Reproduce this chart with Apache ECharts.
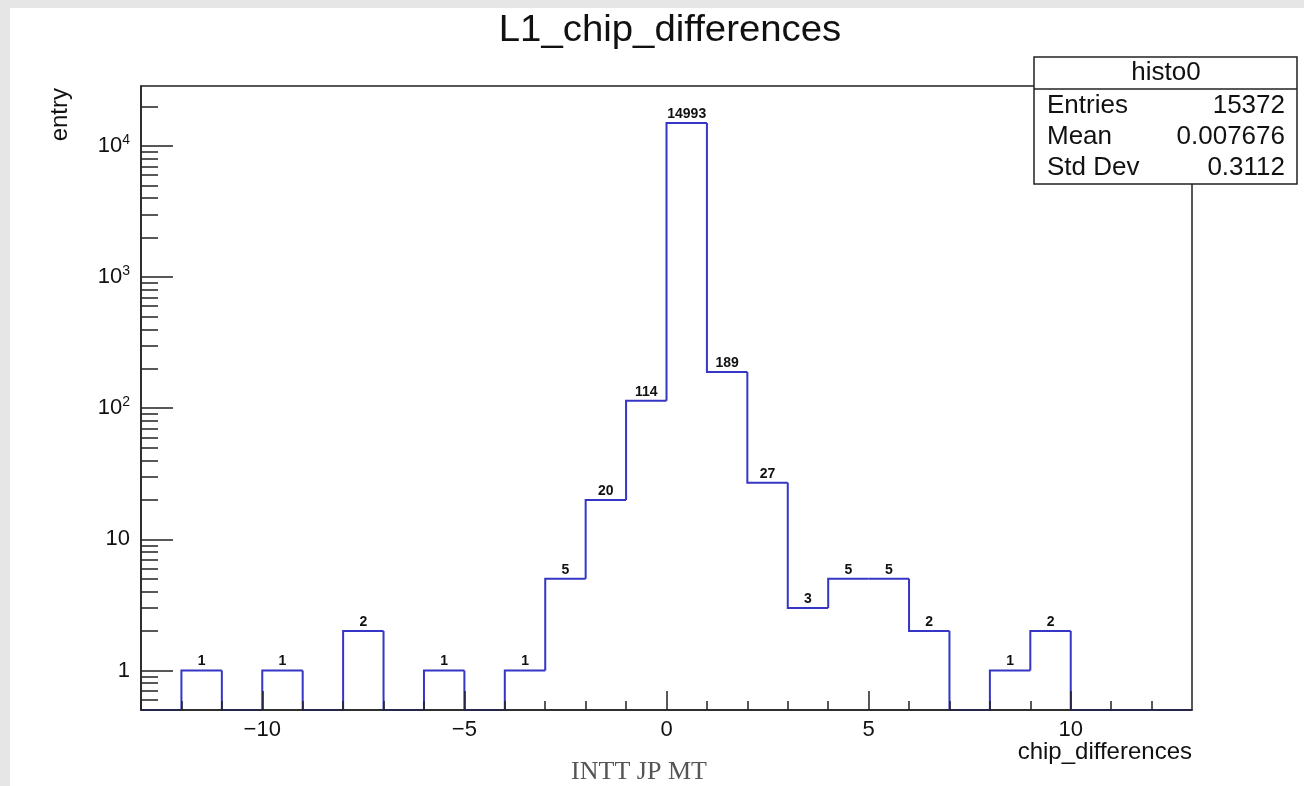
<!DOCTYPE html>
<html>
<head>
<meta charset="utf-8">
<script src="https://cdn.jsdelivr.net/npm/echarts@6/dist/echarts.min.js"></script>
<style>
html,body{margin:0;padding:0;background:#fff;}
#c{width:1304px;height:786px;}
</style>
</head>
<body>
<div id="c"></div>
<script>
// ---- data ----
const chartTitle = 'L1_chip_differences';
const xTitle = 'chip_differences';
const yTitle = 'entry';
const histName = 'histo0';
const binLowEdges = [-13,-12,-11,-10,-9,-8,-7,-6,-5,-4,-3,-2,-1,0,1,2,3,4,5,6,7,8,9,10,11,12];
const binCounts   = [0,1,0,1,0,2,0,1,0,1,5,20,114,14993,189,27,3,5,5,2,0,1,2,0,0,0];
const statLabels = ['Entries','Mean','Std Dev'];
const statValues = ['15372','0.007676','0.3112'];
const xMajorTicks = [-10,-5,0,5,10];
const xMinorTicks = [-13,-12,-11,-9,-8,-7,-6,-4,-3,-2,-1,1,2,3,4,6,7,8,9,11,12];
const yMajorTicks = [1,10,100,1000,10000];
const yMinorTicks = [0.6,0.7,0.8,0.9,2,3,4,5,6,7,8,9,20,30,40,50,60,70,80,90,200,300,400,500,600,700,800,900,2000,3000,4000,5000,6000,7000,8000,9000,20000];
const footer = 'INTT JP MT';

const lineColor = '#3535c6';
const font = '"Liberation Sans", Arial, Helvetica, sans-serif';

const chart = echarts.init(document.getElementById('c'), null, {renderer: 'canvas'});

const xBase = {
  type: 'value', min: -13, max: 13, gridIndex: 0, position: 'bottom', z: 10,
  splitLine: {show: false}
};
const yBase = {
  type: 'log', logBase: 10, min: 0.5, max: 28650, gridIndex: 0, position: 'left', z: 10,
  splitLine: {show: false}
};

function yFmt(v) {
  if (v === 1) return '1';
  if (v === 10) return '10';
  const e = Math.round(Math.log10(v));
  return '10{sup|' + e + '}';
}

const tickStyle = {color: '#222', width: 1.5};
const axisLineOn = {show: true, onZero: false, lineStyle: {color: '#222', width: 1.5}};
const axisLineOff = {show: false, onZero: false};

const option = {
  animation: false,
  backgroundColor: '#fff',
  grid: {left: 141, right: 112, top: 86, bottom: 76, show: true, borderColor: '#222', borderWidth: 1.5, backgroundColor: 'transparent'},
  xAxis: [
    Object.assign({}, xBase, {
      axisLine: axisLineOn,
      axisTick: {show: true, inside: true, length: 19, customValues: xMajorTicks, lineStyle: tickStyle},
      axisLabel: {show: true, customValues: xMajorTicks, margin: 9, fontFamily: font, fontSize: 22, color: '#111',
        formatter: v => (v < 0 ? '\u2212' + Math.abs(v) : String(v))}
    }),
    Object.assign({}, xBase, {
      axisLine: axisLineOff,
      axisTick: {show: true, inside: true, length: 9, customValues: xMinorTicks, lineStyle: tickStyle},
      axisLabel: {show: false}
    })
  ],
  yAxis: [
    Object.assign({}, yBase, {
      axisLine: axisLineOn,
      axisTick: {show: true, inside: true, length: 32, customValues: yMajorTicks, lineStyle: tickStyle},
      axisLabel: {show: true, customValues: yMajorTicks, margin: 11, fontFamily: font, fontSize: 22, color: '#111',
        formatter: yFmt,
        rich: {sup: {fontSize: 14, fontFamily: font, color: '#111', verticalAlign: 'top', padding: [0,0,12,0]}}}
    }),
    Object.assign({}, yBase, {
      axisLine: axisLineOff,
      axisTick: {show: true, inside: true, length: 17, customValues: yMinorTicks, lineStyle: tickStyle},
      axisLabel: {show: false}
    })
  ],
  series: [{
    type: 'custom',
    xAxisIndex: 0, yAxisIndex: 0,
    clip: false,
    z: 1,
    data: binLowEdges.map((x, i) => [x, binCounts[i]]),
    encode: {x: 0, y: 1},
    renderItem: function (params, api) {
      const i = params.dataIndex;
      const x0 = binLowEdges[i];
      const c = binCounts[i];
      const prev = i > 0 ? binCounts[i - 1] : 0;
      const bottom = params.coordSys.y + params.coordSys.height;
      const yOf = v => (v > 0 ? api.coord([x0, v])[1] : bottom);
      const xl = api.coord([x0, 1])[0];
      const xr = api.coord([x0 + 1, 1])[0];
      const pts = [[xl, yOf(prev)], [xl, yOf(c)], [xr, yOf(c)]];
      if (i === binLowEdges.length - 1) pts.push([xr, bottom]);
      const children = [{
        type: 'polyline',
        shape: {points: pts},
        style: {stroke: lineColor, lineWidth: 2, fill: null}
      }];
      if (c > 0) {
        children.push({
          type: 'text',
          style: {
            text: String(c), x: (xl + xr) / 2, y: yOf(c) - 2,
            align: 'center', verticalAlign: 'bottom',
            font: 'bold 14px ' + font, fill: '#111'
          }
        });
      }
      return {type: 'group', children: children};
    }
  }],
  graphic: [
    {type: 'rect', shape: {x: 0, y: 0, width: 1304, height: 8}, style: {fill: '#e6e6e6'}, silent: true},
    {type: 'rect', shape: {x: 0, y: 0, width: 10, height: 786}, style: {fill: '#e6e6e6'}, silent: true},
    {type: 'text', x: 670, y: 31, scaleX: 1.065, style: {text: chartTitle, x: 0, y: 0, align: 'center', verticalAlign: 'middle', font: '36px ' + font, fill: '#111'}},
    {type: 'text', style: {text: yTitle, font: '24px ' + font, fill: '#111', align: 'right', verticalAlign: 'middle'}, x: 60, y: 88, rotation: Math.PI / 2},
    {type: 'text', style: {text: xTitle, font: '24px ' + font, fill: '#111', align: 'right', verticalAlign: 'middle'}, x: 1192, y: 752},
    {type: 'text', style: {text: footer, font: '26px "Liberation Serif", "DejaVu Serif", serif', fill: '#555', align: 'center', verticalAlign: 'middle'}, x: 639, y: 772},
    {type: 'group', z: 100, children: [
      {type: 'rect', shape: {x: 1034, y: 57, width: 263, height: 127}, style: {fill: '#fff', stroke: '#222', lineWidth: 1.5}},
      {type: 'line', shape: {x1: 1034, y1: 89, x2: 1297, y2: 89}, style: {stroke: '#222', lineWidth: 1.5}},
      {type: 'text', style: {text: histName, x: 1166, y: 73, align: 'center', verticalAlign: 'middle', font: '26px ' + font, fill: '#111'}},
      {type: 'text', style: {text: statLabels[0], x: 1047, y: 106, align: 'left', verticalAlign: 'middle', font: '26px ' + font, fill: '#111'}},
      {type: 'text', style: {text: statValues[0], x: 1285, y: 106, align: 'right', verticalAlign: 'middle', font: '26px ' + font, fill: '#111'}},
      {type: 'text', style: {text: statLabels[1], x: 1047, y: 137, align: 'left', verticalAlign: 'middle', font: '26px ' + font, fill: '#111'}},
      {type: 'text', style: {text: statValues[1], x: 1285, y: 137, align: 'right', verticalAlign: 'middle', font: '26px ' + font, fill: '#111'}},
      {type: 'text', style: {text: statLabels[2], x: 1047, y: 168, align: 'left', verticalAlign: 'middle', font: '26px ' + font, fill: '#111'}},
      {type: 'text', style: {text: statValues[2], x: 1285, y: 168, align: 'right', verticalAlign: 'middle', font: '26px ' + font, fill: '#111'}}
    ]}
  ]
};
chart.setOption(option);
</script>
</body>
</html>
